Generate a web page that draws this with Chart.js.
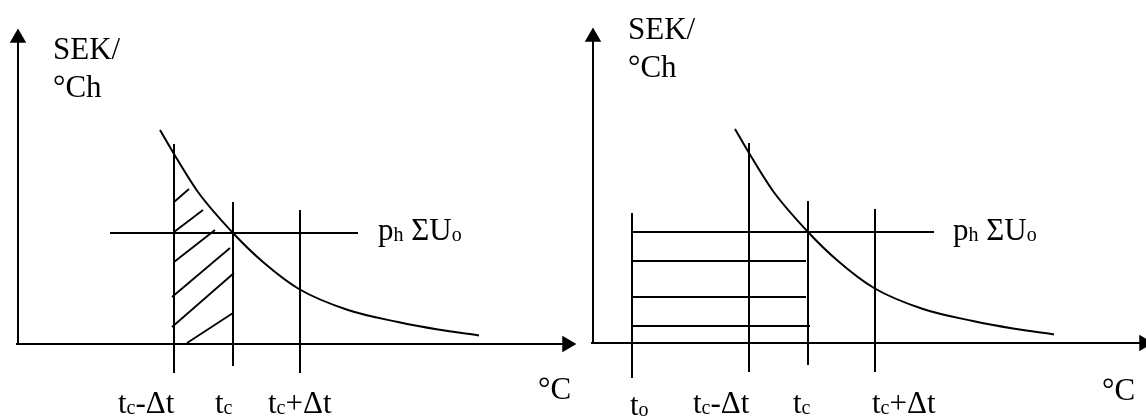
<!DOCTYPE html>
<html>
<head>
<meta charset="utf-8">
<script src="https://cdn.jsdelivr.net/npm/chart.js@4.4.0/dist/chart.umd.min.js"></script>
<style>
  html, body { margin: 0; background: #fff; overflow: hidden; }
  .panel { position: absolute; top: 0; }
  #left { left: 0; }
  #right { left: 575px; }
</style>
</head>
<body>
<canvas id="left" class="panel" width="580" height="416"></canvas>
<canvas id="right" class="panel" width="571" height="416"></canvas>
<script>
// Cost curve (SEK/°Ch) against temperature
const curveX = [14.2, 15.6, 18.0, 21.5, 24.5, 28.1, 33.0, 38.0, 42.0, 46.1];
const curveY = [21.4, 19.0, 15.2, 11.1, 8.2, 5.5, 3.4, 2.2, 1.45, 0.85];

// Temperature markers tc-Δt, tc, tc+Δt
const markerX = [15.6, 21.5, 28.2];
const markerTop = [20.0, 14.2, 13.4];
const markerBottom = [-2.9, -2.2, -2.9];

// Start temperature t0 (right diagram)
const t0X = 3.9;
const t0Top = 13.0;
const t0Bottom = -3.5;

// Price level ph·ΣUo
const priceLevel = 11.1;

// Hatched area between tc-Δt and tc (left diagram)
const hatchFrom = [[15.6, 14.2], [15.6, 11.2], [15.6, 8.2], [15.4, 4.7], [15.4, 1.7], [16.9, 0.1]];
const hatchTo = [[17.1, 15.5], [18.5, 13.4], [19.7, 11.4], [21.2, 9.6], [21.6, 7.1], [21.5, 3.1]];

// Horizontal bands from t0 up to tc (right diagram)
const bandLevels = [8.2, 4.6, 1.7];
const bandEnds = [21.3, 21.3, 21.7];

const SERIF = '"Liberation Serif", "Times New Roman", serif';

// draws text with small subscript parts (parts starting with "_")
const richText = {
  id: "richText",
  afterDatasetsDraw(chart, args, opts) {
    const { ctx } = chart;
    const xs = chart.scales.x;
    const ys = chart.scales.y;
    ctx.save();
    ctx.fillStyle = "#000";
    ctx.textBaseline = "alphabetic";
    opts.items.forEach((item) => {
      let px = xs.getPixelForValue(item.x);
      const py = ys.getPixelForValue(item.y);
      item.parts.forEach((part) => {
        const small = part.startsWith("_");
        const str = small ? part.slice(1) : part;
        ctx.font = `${small ? 20 : 31}px ${SERIF}`;
        ctx.fillText(str, px, py + (small ? 1 : 0));
        px += ctx.measureText(str).width;
      });
    });
    ctx.restore();
  },
};

const seg = (x0, y0, x1, y1) => [{ x: x0, y: y0 }, { x: x1, y: y1 }];

function lineSet(data, width = 2) {
  return {
    data,
    showLine: true,
    borderColor: "#000",
    borderWidth: width,
    pointRadius: 0,
    fill: false,
  };
}

function axisSet(data, rotation) {
  return {
    data,
    showLine: true,
    borderColor: "#000",
    borderWidth: 2,
    pointRadius: [0, 9.5],
    pointStyle: "triangle",
    pointRotation: rotation,
    pointBackgroundColor: "#000",
    pointBorderWidth: 0,
  };
}

function curveSet() {
  const set = lineSet(curveX.map((x, i) => ({ x, y: curveY[i] })), 2);
  set.tension = 0.4;
  set.cubicInterpolationMode = "monotone";
  return set;
}

function markerSets() {
  return markerX.map((x, i) => lineSet(seg(x, markerBottom[i], x, markerTop[i])));
}

function makeChart(id, xRange, yRange, datasets, labels) {
  return new Chart(document.getElementById(id), {
    type: "scatter",
    data: { datasets },
    options: {
      responsive: false,
      animation: false,
      events: [],
      layout: { padding: 0, autoPadding: false },
      scales: {
        x: { type: "linear", display: false, min: xRange[0], max: xRange[1] },
        y: { type: "linear", display: false, min: yRange[0], max: yRange[1] },
      },
      plugins: {
        legend: { display: false },
        tooltip: { enabled: false },
        richText: { items: labels },
      },
    },
    plugins: [richText],
  });
}

// ---------- Left diagram ----------
const leftSets = [
  axisSet(seg(-0.2, 0, 54.9, 0), 90),
  axisSet(seg(0, 0, 0, 30.6), 0),
  ...markerSets(),
  lineSet(seg(9.2, priceLevel, 34.0, priceLevel)),
  ...hatchFrom.map((p, i) => lineSet(seg(p[0], p[1], hatchTo[i][0], hatchTo[i][1]), 1.8)),
  curveSet(),
];

makeChart("left", [-1.8, 56.2], [-7.2, 34.4], leftSets, [
  { x: 3.5, y: 28.5, parts: ["SEK/"] },
  { x: 3.5, y: 24.7, parts: ["°Ch"] },
  { x: 36.0, y: 10.4, parts: ["p", "_h", " ΣU", "_o"] },
  { x: 52.0, y: -5.5, parts: ["°C"] },
  { x: 10.0, y: -6.9, parts: ["t", "_c", "-Δt"] },
  { x: 19.7, y: -6.9, parts: ["t", "_c"] },
  { x: 25.0, y: -6.9, parts: ["t", "_c", "+Δt"] },
]);

// ---------- Right diagram ----------
const rightSets = [
  axisSet(seg(-0.2, 0, 55.1, 0), 90),
  axisSet(seg(0, 0, 0, 30.6), 0),
  lineSet(seg(t0X, t0Bottom, t0X, t0Top)),
  ...markerSets(),
  lineSet(seg(t0X, priceLevel, 34.1, priceLevel)),
  ...bandLevels.map((y, i) => lineSet(seg(t0X, y, bandEnds[i], y), 1.8)),
  curveSet(),
];

makeChart("right", [-1.8, 55.3], [-7.3, 34.3], rightSets, [
  { x: 3.5, y: 30.4, parts: ["SEK/"] },
  { x: 3.5, y: 26.6, parts: ["°Ch"] },
  { x: 36.0, y: 10.3, parts: ["p", "_h", " ΣU", "_o"] },
  { x: 50.9, y: -5.7, parts: ["°C"] },
  { x: 3.7, y: -7.2, parts: ["t", "_o"] },
  { x: 10.0, y: -7.0, parts: ["t", "_c", "-Δt"] },
  { x: 20.0, y: -7.0, parts: ["t", "_c"] },
  { x: 27.9, y: -7.0, parts: ["t", "_c", "+Δt"] },
]);
</script>
</body>
</html>
